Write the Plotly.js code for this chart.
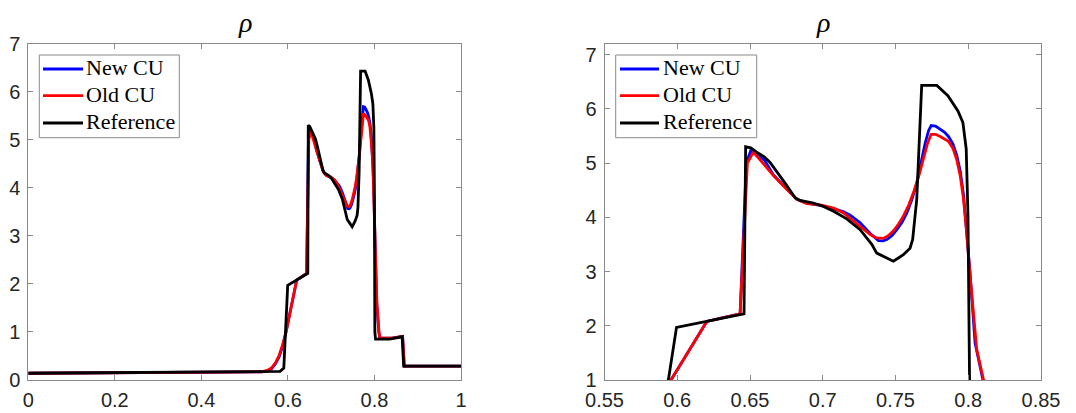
<!DOCTYPE html>
<html>
<head>
<meta charset="utf-8">
<script src="https://cdn.plot.ly/plotly-3.0.1.min.js"></script>
<style>
  html, body { margin: 0; padding: 0; background: #ffffff; }
  #chart { width: 1076px; height: 413px; }
</style>
</head>
<body>
<div id="chart"></div>
<script>
// ---- data ----
var seriesNames = ["New CU", "Old CU", "Reference"];

var newX = [0, 0.2, 0.4, 0.54, 0.552, 0.562, 0.572, 0.58, 0.588, 0.5957, 0.6203, 0.63, 0.6432, 0.6475, 0.6505,
  0.655, 0.66, 0.6661, 0.6754, 0.6822, 0.6891, 0.6983, 0.7074, 0.7143, 0.7189, 0.7257, 0.7326, 0.7383, 0.7415, 0.744,
  0.7475, 0.7509, 0.7545, 0.7578, 0.7612, 0.7646, 0.7675, 0.7704, 0.7728, 0.7745, 0.7775, 0.7807, 0.7836, 0.7864,
  0.7895, 0.7921, 0.7945, 0.7967, 0.799, 0.8013, 0.8047, 0.8101, 0.8125,
  0.84, 0.862, 0.865, 0.869, 1];
var newY = [0.14, 0.15, 0.16, 0.17, 0.19, 0.23, 0.35, 0.49, 0.71, 1.0, 2.08, 2.14, 2.22, 5.0, 5.23,
  5.15, 5.05, 4.78, 4.52, 4.33, 4.26, 4.22, 4.16, 4.10, 4.04, 3.90, 3.70, 3.57, 3.565, 3.59,
  3.66, 3.77, 3.91, 4.08, 4.32, 4.63, 5.0, 5.37, 5.6, 5.69, 5.68, 5.63, 5.57, 5.49,
  5.35, 5.14, 4.85, 4.42, 3.75, 2.95, 1.68, 1.0, 0.87,
  0.87, 0.91, 0.91, 0.29, 0.29];

var oldX = [0, 0.2, 0.4, 0.54, 0.552, 0.562, 0.572, 0.58, 0.588, 0.5957, 0.6203, 0.63, 0.6432, 0.6482, 0.6523,
  0.6569, 0.6661, 0.6754, 0.6822, 0.6891, 0.6983, 0.7074, 0.7143, 0.7235, 0.7326, 0.7371, 0.7417, 0.745, 0.7486,
  0.752, 0.7554, 0.759, 0.7623, 0.7658, 0.7692, 0.772, 0.7745, 0.7775, 0.7807, 0.7836, 0.7864, 0.7895, 0.7921,
  0.7945, 0.7967, 0.799, 0.8013, 0.8058, 0.8105, 0.8125,
  0.84, 0.862, 0.865, 0.869, 1];
var oldY = [0.14, 0.15, 0.16, 0.17, 0.2, 0.25, 0.37, 0.52, 0.74, 1.0, 2.08, 2.14, 2.22, 5.0, 5.2,
  5.06, 4.77, 4.51, 4.33, 4.25, 4.23, 4.17, 4.08, 3.88, 3.68, 3.62, 3.61, 3.66, 3.75,
  3.87, 4.02, 4.22, 4.45, 4.74, 5.06, 5.36, 5.53, 5.53, 5.49, 5.45, 5.40, 5.27, 5.06,
  4.76, 4.35, 3.7, 2.91, 1.56, 1.0, 0.87,
  0.87, 0.91, 0.91, 0.29, 0.29];

var refX = [0, 0.2, 0.4, 0.55, 0.582, 0.5905, 0.5939, 0.5995, 0.6459, 0.647, 0.6505, 0.6546, 0.66, 0.6638,
  0.6684, 0.6741, 0.681, 0.6844, 0.6936, 0.7005, 0.7074, 0.7165, 0.7257, 0.7337, 0.7371, 0.7417, 0.7485,
  0.752, 0.7554, 0.76, 0.7618, 0.7646, 0.768, 0.7784, 0.786, 0.7929, 0.7963, 0.7986, 0.7998, 0.8009,
  0.8025, 0.835, 0.862, 0.864, 0.8675, 1];
var refY = [0.14, 0.15, 0.16, 0.17, 0.18, 0.25, 1.0, 1.97, 2.22, 5.30, 5.28, 5.20, 5.11, 5.01,
  4.85, 4.63, 4.36, 4.31, 4.26, 4.20, 4.11, 3.97, 3.77, 3.50, 3.34, 3.28, 3.19,
  3.25, 3.31, 3.43, 3.59, 4.33, 6.43, 6.43, 6.24, 5.96, 5.75, 5.26, 4.04, 1.0,
  0.85, 0.85, 0.9, 0.9, 0.29, 0.29];

var leftXTicks = [0, 0.2, 0.4, 0.6, 0.8, 1];
var leftXTickText = ["0", "0.2", "0.4", "0.6", "0.8", "1"];
var leftYTicks = [0, 1, 2, 3, 4, 5, 6, 7];
var rightXTicks = [0.55, 0.6, 0.65, 0.7, 0.75, 0.8, 0.85];
var rightXTickText = ["0.55", "0.6", "0.65", "0.7", "0.75", "0.8", "0.85"];
var rightYTicks = [1, 2, 3, 4, 5, 6, 7];
var panelTitle = "ρ";

// ---- styling ----
var colors = ["#0000ff", "#ff0000", "#000000"];
var W = 1076, H = 413;
var xs = [newX, oldX, refX], ys = [newY, oldY, refY];

var traces = [];
[["x", "y"], ["x2", "y2"]].forEach(function (ax) {
  for (var i = 0; i < 3; i++) {
    traces.push({
      type: "scatter", mode: "lines",
      x: xs[i], y: ys[i], name: seriesNames[i],
      xaxis: ax[0], yaxis: ax[1], showlegend: false,
      line: { color: colors[i], width: 2.8 },
      hoverinfo: "skip"
    });
  }
});

var tickFont = { family: "'Liberation Sans', Arial, sans-serif", size: 20, color: "#262626" };
function axisBase(extra) {
  var a = {
    showgrid: false, zeroline: false, showline: true, mirror: "ticks",
    linecolor: "#8a8a8a", linewidth: 1, ticks: "inside", ticklen: 5, tickcolor: "#8a8a8a",
    tickfont: tickFont, fixedrange: true
  };
  for (var k in extra) a[k] = extra[k];
  return a;
}
var yTop = 1 - 43.7 / H, yBot = 1 - 380 / H;

// legend drawn as a frame + sample lines + labels (paper coordinates)
var shapes = [], annotations = [];
function addLegend(boxL, boxR, lineL, lineR, textL) {
  shapes.push({ type: "rect", xref: "paper", yref: "paper", layer: "above",
    x0: boxL / W, x1: boxR / W, y0: 1 - 137.7 / H, y1: 1 - 55 / H,
    line: { color: "#8a8a8a", width: 1 }, fillcolor: "#ffffff" });
  var rows = [69, 95.7, 123];
  for (var i = 0; i < 3; i++) {
    shapes.push({ type: "line", xref: "paper", yref: "paper", layer: "above",
      x0: lineL / W, x1: lineR / W, y0: 1 - rows[i] / H, y1: 1 - rows[i] / H,
      line: { color: colors[i], width: 2.8 } });
    annotations.push({ text: seriesNames[i], xref: "paper", yref: "paper",
      x: textL / W, y: 1 - (rows[i] - 1) / H, xanchor: "left", yanchor: "middle", showarrow: false,
      font: { family: "'Liberation Serif', 'Times New Roman', serif", size: 22, color: "#000000" } });
  }
}
addLegend(39.3, 179.3, 43, 83, 84);
addLegend(615.7, 756.7, 620, 659, 661);

[244.7, 822.7].forEach(function (cx) {
  annotations.push({ text: "<i>" + panelTitle + "</i>", xref: "paper", yref: "paper", x: cx / W, y: 1 - 22 / H,
    xanchor: "center", yanchor: "middle", showarrow: false,
    font: { family: "'Liberation Serif', 'Times New Roman', serif", size: 28, color: "#000000" } });
});

var layout = {
  width: W, height: H,
  margin: { l: 0, r: 0, t: 0, b: 0 },
  paper_bgcolor: "#ffffff", plot_bgcolor: "#ffffff",
  showlegend: false,
  xaxis: axisBase({ domain: [28.3 / W, 461 / W], range: [0, 1], anchor: "y",
    tickvals: leftXTicks, ticktext: leftXTickText, ticklabelstandoff: 2 }),
  yaxis: axisBase({ domain: [yBot, yTop], range: [0, 7], anchor: "x", tickvals: leftYTicks, ticklabelstandoff: 3 }),
  xaxis2: axisBase({ domain: [604.5 / W, 1041 / W], range: [0.55, 0.85], anchor: "y2",
    tickvals: rightXTicks, ticktext: rightXTickText, ticklabelstandoff: 2 }),
  yaxis2: axisBase({ domain: [yBot, yTop], range: [1, 7.2], anchor: "x2", tickvals: rightYTicks, ticklabelstandoff: 3 }),
  shapes: shapes,
  annotations: annotations
};

Plotly.newPlot("chart", traces, layout, { staticPlot: true, displayModeBar: false });
</script>
</body>
</html>
